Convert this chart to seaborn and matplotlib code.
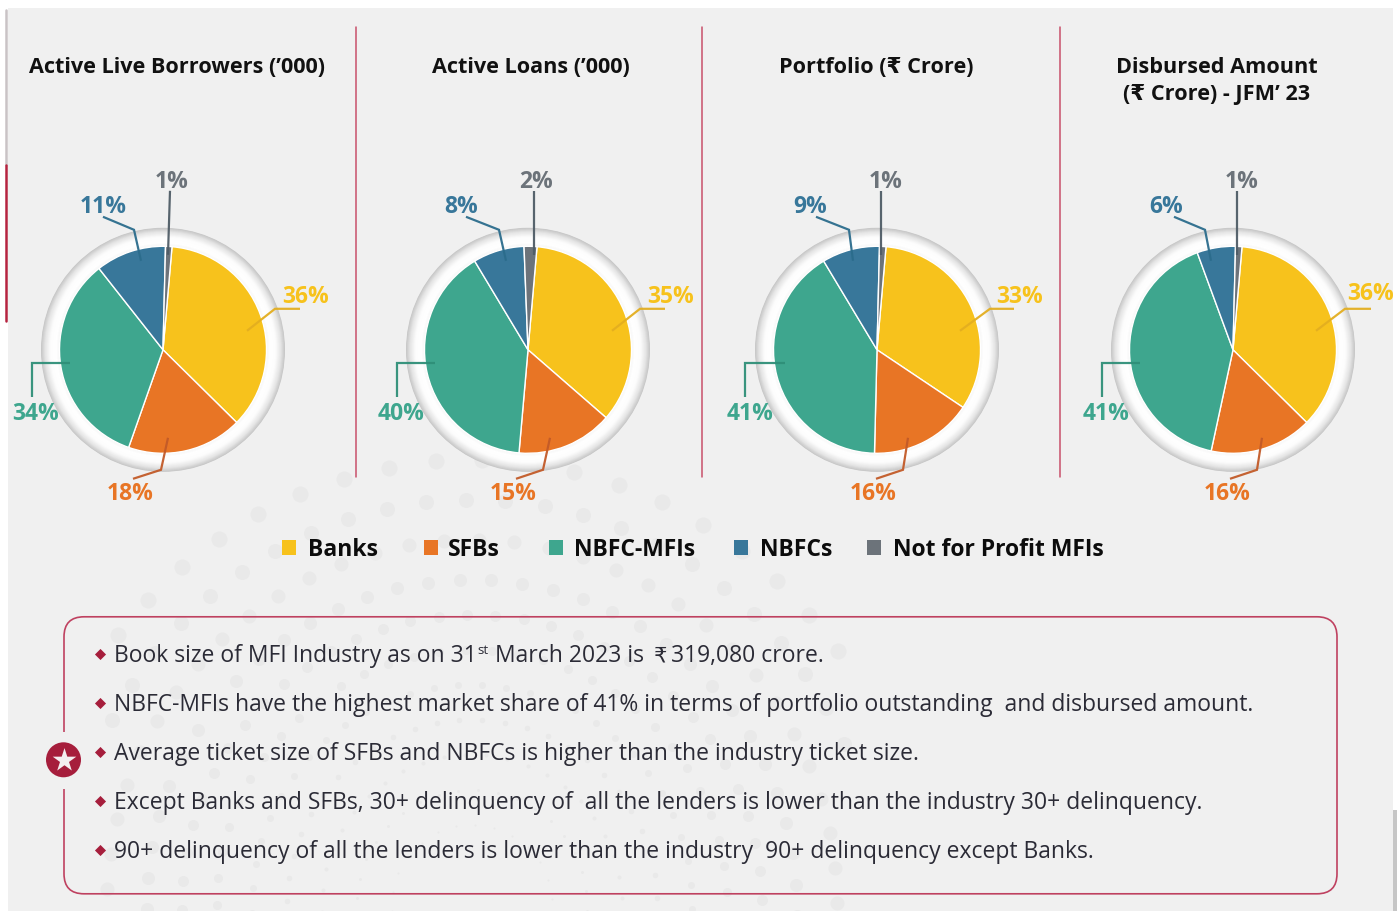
import numpy as np
import matplotlib.pyplot as plt
from matplotlib.patches import Circle, FancyBboxPatch, Rectangle
import seaborn as sns

# data
categories = ['Banks', 'SFBs', 'NBFC-MFIs', 'NBFCs', 'Not for Profit MFIs']
borrowers = [36, 18, 34, 11, 1]
loans = [35, 15, 40, 8, 2]
portfolio = [33, 16, 41, 9, 1]
disbursed = [36, 16, 41, 6, 1]
titles = ["Active Live Borrowers (’000)", "Active Loans (’000)", "Portfolio (₹ Crore)",
          "Disbursed Amount\n(₹ Crore) - JFM’ 23"]
notes = ["Book size of MFI Industry as on 31",
         "NBFC-MFIs have the highest market share of 41% in terms of portfolio outstanding  and disbursed amount.",
         "Average ticket size of SFBs and NBFCs is higher than the industry ticket size.",
         "Except Banks and SFBs, 30+ delinquency of  all the lenders is lower than the industry 30+ delinquency.",
         "90+ delinquency of all the lenders is lower than the industry  90+ delinquency except Banks."]

W, H = 1397, 912
BG = '#f0f0f0'
seg_colors = ['#f7c21c', '#e87525', '#3ea68e', '#38779a', '#6c737a']
line_colors = ['#e3ae20', '#c25a28', '#2f8f78', '#2b6c8c', '#4f5c66']
text_colors = ['#f7c21c', '#e87525', '#3ea68e', '#38779a', '#6c737a']
CRIMSON = '#a61e3c'
FONT = ['Open Sans', 'DejaVu Sans']

sns.set_theme(style='white')
plt.rcParams['font.family'] = FONT
palette = sns.color_palette(seg_colors)


def Y(py):
    return H - py - 0.8


fig = plt.figure(figsize=(W / 100, H / 100), dpi=100, facecolor='white')
ax = fig.add_axes([0, 0, 1, 1])
ax.add_patch(Rectangle((8, Y(912)), 1385, 904, fc=BG, ec='none', zorder=0))
ax.add_patch(Rectangle((1393, Y(912)), 4, 102, fc='#c6c6c6', ec='none', zorder=0))
ax.plot([6, 6], [Y(10), Y(165)], color='#c9c3c5', lw=1.8, zorder=1)
ax.plot([6, 6], [Y(165), Y(321)], color='#b5233f', lw=1.8, zorder=1)

# faint dotted rings behind everything
for r, d in zip([445, 405, 365, 325, 290, 255, 220, 185, 150, 115, 80],
                [8, 7.5, 7, 6.5, 5.5, 4.5, 3.5, 2.8, 2, 1.5, 1]):
    n = int(2 * np.pi * r / 46 * (1 + (445 - r) / 250))
    a = np.linspace(0, 2 * np.pi, n, endpoint=False) + r / 90
    px, py = 472 + r * np.cos(a), 905 + r * np.sin(a)
    keep = (px > 100) & (px < 850)
    ax.scatter(px[keep], Y(py[keep]), s=(d * 2 * 0.72) ** 2, color='#e9e9e9', linewidths=0, zorder=0.5)

centers = [163, 528, 877, 1233]
panels = [borrowers, loans, portfolio, disbursed]
title_x = [177, 531, 876, 1217]
title_y = [67, 67, 67, 80]

# leader lines per panel, per category (pixels), then label centre
leaders = [
    [[(247, 331), (275, 309), (300, 309)], [(168, 438), (161, 470), (133, 479)], [(70, 363), (32, 363), (32, 397)],
     [(141, 261), (134, 230), (103, 217)], [(168, 255), (170, 191)]],
    [[(612, 331), (640, 309), (665, 309)], [(550, 438), (543, 470), (516, 479)], [(435, 363), (397, 363), (397, 397)],
     [(506, 261), (499, 230), (466, 217)], [(534, 255), (534, 191)]],
    [[(960, 331), (990, 309), (1014, 309)], [(908, 438), (903, 470), (876, 479)], [(785, 363), (745, 363), (745, 397)],
     [(853, 261), (849, 230), (816, 217)], [(881, 255), (881, 191)]],
    [[(1316, 331), (1345, 309), (1371, 309)], [(1262, 438), (1257, 470), (1230, 479)], [(1140, 363), (1102, 363), (1102, 397)],
     [(1211, 261), (1205, 230), (1174, 217)], [(1237, 255), (1237, 191)]],
]
label_pos = [
    [(306, 295), (130, 492), (36, 412), (103, 205), (172, 180)],
    [(671, 295), (513, 492), (401, 412), (461, 205), (536, 180)],
    [(1020, 295), (873, 492), (750, 412), (810, 205), (886, 180)],
    [(1371, 292), (1227, 492), (1106, 412), (1166, 205), (1242, 180)],
]

for x0, vals, t, tx, ty, lead, lab in zip(centers, panels, titles, title_x, title_y, leaders, label_pos):
    # grey to white ring around the pie
    for r in np.arange(122, 102, -0.5):
        g = np.interp(r, [103, 107, 113, 118, 122], [0.96, 1.0, 0.99, 0.90, 0.78])
        ax.add_patch(Circle((x0, Y(350)), r, fc=(g, g, g), ec='none', zorder=2))
    ax.pie(vals, colors=palette, center=(x0, Y(350)), radius=103.5, startangle=85, counterclock=False,
           wedgeprops=dict(edgecolor='white', linewidth=1.0))
    for w in ax.patches[-5:]:
        w.set_zorder(3)
    ax.text(tx, Y(ty), t, ha='center', va='center', fontsize=15.6, fontweight='bold', color='#111111',
            linespacing=1.37, zorder=5)
    for i, v in enumerate(vals):
        xs, ys = zip(*lead[i])
        ax.plot(xs, [Y(p) for p in ys], color=line_colors[i], lw=1.6, zorder=4, solid_capstyle='butt',
                solid_joinstyle='miter', alpha=0.95)
        ax.text(lab[i][0], Y(lab[i][1] + 1), f'{v}%', ha='center', va='center', fontsize=16.5, fontweight='bold',
                color=text_colors[i], zorder=5)

for x in [356, 702, 1060]:
    ax.plot([x, x], [Y(27), Y(477)], color='#c8506a', lw=1.1, zorder=1)

# legend
legend_x = [289, 431, 556, 741, 874]
legend_tx = [308, 448, 574, 760, 893]
sns.scatterplot(x=legend_x, y=[Y(548)] * 5, hue=categories, palette=palette, marker='s', s=112,
                linewidth=0, legend=False, ax=ax, zorder=5)
for tx, name in zip(legend_tx, categories):
    ax.text(tx, Y(549), name, ha='left', va='center', fontsize=16.5, fontweight='bold', color='#0c0c0c', zorder=5)

# notes box
ax.add_patch(FancyBboxPatch((64 + 20, Y(894) + 20), 1273 - 40, 277 - 40, boxstyle='round,pad=20,rounding_size=20',
                            fc='none', ec='#bf4160', lw=1.2, zorder=2))
ax.add_patch(Rectangle((58, Y(789)), 12, 57, fc=BG, ec='none', zorder=2.5))
ax.add_patch(Circle((63.5, Y(760)), 17.5, fc=CRIMSON, ec='none', zorder=3))
ax.scatter([63.5], [Y(760)], marker='*', s=320, color='#f4eef0', linewidths=0, zorder=4)

note_y = [654, 703, 752, 801, 850]
ax.scatter([100] * 5, [Y(p) for p in note_y], marker='D', s=32, color=CRIMSON, linewidths=0, zorder=4)
for p, line in zip(note_y, notes):
    ax.text(114, Y(p + 1), line, ha='left', va='center', fontsize=16.5, color='#2b2b36', zorder=5)
# rest of the first note, split so the superscript and rupee sign land where they should
ax.text(477, Y(650), 'st', ha='left', va='center', fontsize=9.5, color='#2b2b36', zorder=5)
ax.text(495, Y(655), 'March 2023 is', ha='left', va='center', fontsize=16.5, color='#2b2b36', zorder=5)
ax.text(654, Y(655), '₹', ha='left', va='center', fontsize=15, color='#2b2b36', zorder=5)
ax.text(671, Y(655), '319,080 crore.', ha='left', va='center', fontsize=16.5, color='#2b2b36', zorder=5)

ax.set_xlim(0, W)
ax.set_ylim(0, H)
ax.set_aspect('auto')
ax.axis('off')
fig.savefig('out.png', dpi=100, facecolor='white')
